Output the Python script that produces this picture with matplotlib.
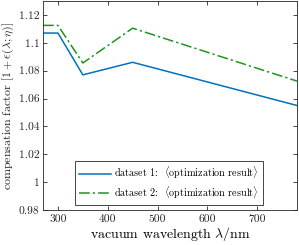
import matplotlib
matplotlib.use('Agg')
import matplotlib.pyplot as plt

# data
wl = [270, 300, 350, 450, 780]
ds1 = [1.107, 1.107, 1.077, 1.086, 1.055]
ds2 = [1.1125, 1.1125, 1.0855, 1.1105, 1.0725]

xticks = [300, 400, 500, 600, 700]
yticks = [0.98, 1.0, 1.02, 1.04, 1.06, 1.08, 1.1, 1.12]
yticklabels = ['0.98', '1', '1.02', '1.04', '1.06', '1.08', '1.1', '1.12']

plt.rcParams['font.family'] = 'serif'
plt.rcParams['font.serif'] = ['cmr10']
plt.rcParams['mathtext.fontset'] = 'cm'
plt.rcParams['axes.unicode_minus'] = False

fig = plt.figure(figsize=(2.99, 2.45), dpi=100)
ax = fig.add_axes([0.1438, 0.1429, 0.8495, 0.853])

ax.plot(wl, ds1, color='#0072BD', lw=1.1,
        label=r'dataset 1:  $\langle$optimization result$\rangle$')
ax.plot(wl, ds2, color='#1E961E', lw=1.1, linestyle=(0, (7, 2, 1.5, 2)),
        label=r'dataset 2:  $\langle$optimization result$\rangle$')

ax.set_xlim(270, 780)
ax.set_ylim(0.98, 1.13)
ax.set_xticks(xticks)
ax.set_yticks(yticks)
ax.set_yticklabels(yticklabels)
ax.tick_params(direction='in', top=True, right=True, labelsize=8.3,
               length=3, width=0.6, colors='#262626', pad=3)
ax.tick_params(axis='y', pad=2.5)
for s in ax.spines.values():
    s.set_linewidth(0.6)
    s.set_color('#262626')

ax.set_xlabel(r'vacuum wavelength $\lambda$/nm', fontsize=10, labelpad=1)
# y label placed by hand so it stays inside the figure
fig.text(1 / 299, 1 - 106 / 245, r'compensation factor $[1+\epsilon(\lambda;\eta)]$',
         fontsize=8.6, rotation=90, ha='left', va='center', color='#262626')

leg = ax.legend(loc='lower right', fontsize=7.3, fancybox=False, edgecolor='#262626',
                framealpha=1, handlelength=3.2, borderpad=0.4, labelspacing=0.3,
                handletextpad=0.3, bbox_to_anchor=(0.885, 0.0))
leg.get_frame().set_linewidth(0.6)

plt.savefig('out.png', dpi=100)
